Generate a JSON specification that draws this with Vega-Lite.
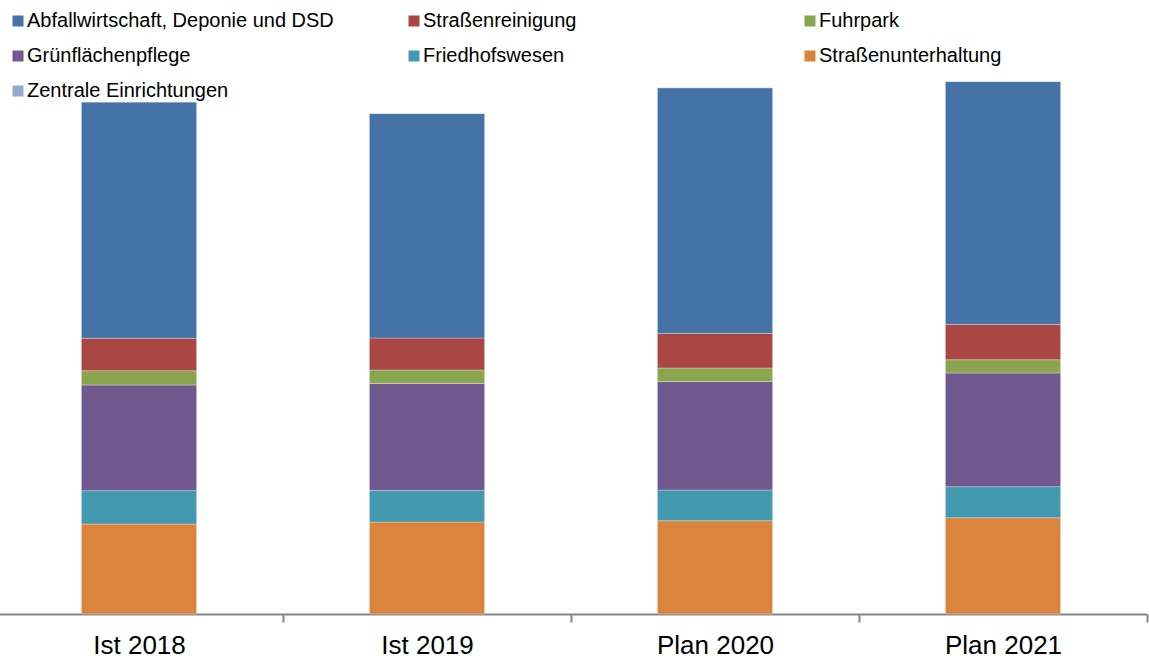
{
  "$schema": "https://vega.github.io/schema/vega-lite/v6.json",
  "width": 1152,
  "height": 614,
  "padding": {"left": -5, "top": 0, "right": 2, "bottom": 45},
  "autosize": {"type": "none"},
  "background": "#ffffff",
  "config": {
    "view": {"stroke": null},
    "font": "Liberation Sans"
  },
  "data": {
    "values": [
      {"Jahr": "Ist 2018", "Bereich": "Straßenunterhaltung", "Wert": 90, "Ordnung": 1},
      {"Jahr": "Ist 2018", "Bereich": "Friedhofswesen", "Wert": 33.3, "Ordnung": 2},
      {"Jahr": "Ist 2018", "Bereich": "Grünflächenpflege", "Wert": 105.7, "Ordnung": 3},
      {"Jahr": "Ist 2018", "Bereich": "Fuhrpark", "Wert": 14.3, "Ordnung": 4},
      {"Jahr": "Ist 2018", "Bereich": "Straßenreinigung", "Wert": 32.4, "Ordnung": 5},
      {"Jahr": "Ist 2018", "Bereich": "Abfallwirtschaft, Deponie und DSD", "Wert": 236.3, "Ordnung": 6},
      {"Jahr": "Ist 2018", "Bereich": "Zentrale Einrichtungen", "Wert": 0, "Ordnung": 7},
      {"Jahr": "Ist 2019", "Bereich": "Straßenunterhaltung", "Wert": 92, "Ordnung": 1},
      {"Jahr": "Ist 2019", "Bereich": "Friedhofswesen", "Wert": 31.6, "Ordnung": 2},
      {"Jahr": "Ist 2019", "Bereich": "Grünflächenpflege", "Wert": 107, "Ordnung": 3},
      {"Jahr": "Ist 2019", "Bereich": "Fuhrpark", "Wert": 13.4, "Ordnung": 4},
      {"Jahr": "Ist 2019", "Bereich": "Straßenreinigung", "Wert": 32, "Ordnung": 5},
      {"Jahr": "Ist 2019", "Bereich": "Abfallwirtschaft, Deponie und DSD", "Wert": 224.6, "Ordnung": 6},
      {"Jahr": "Ist 2019", "Bereich": "Zentrale Einrichtungen", "Wert": 0, "Ordnung": 7},
      {"Jahr": "Plan 2020", "Bereich": "Straßenunterhaltung", "Wert": 93.3, "Ordnung": 1},
      {"Jahr": "Plan 2020", "Bereich": "Friedhofswesen", "Wert": 30.7, "Ordnung": 2},
      {"Jahr": "Plan 2020", "Bereich": "Grünflächenpflege", "Wert": 108.6, "Ordnung": 3},
      {"Jahr": "Plan 2020", "Bereich": "Fuhrpark", "Wert": 13.4, "Ordnung": 4},
      {"Jahr": "Plan 2020", "Bereich": "Straßenreinigung", "Wert": 34.6, "Ordnung": 5},
      {"Jahr": "Plan 2020", "Bereich": "Abfallwirtschaft, Deponie und DSD", "Wert": 245.7, "Ordnung": 6},
      {"Jahr": "Plan 2020", "Bereich": "Zentrale Einrichtungen", "Wert": 0, "Ordnung": 7},
      {"Jahr": "Plan 2021", "Bereich": "Straßenunterhaltung", "Wert": 96.3, "Ordnung": 1},
      {"Jahr": "Plan 2021", "Bereich": "Friedhofswesen", "Wert": 31, "Ordnung": 2},
      {"Jahr": "Plan 2021", "Bereich": "Grünflächenpflege", "Wert": 113.7, "Ordnung": 3},
      {"Jahr": "Plan 2021", "Bereich": "Fuhrpark", "Wert": 13.3, "Ordnung": 4},
      {"Jahr": "Plan 2021", "Bereich": "Straßenreinigung", "Wert": 35.3, "Ordnung": 5},
      {"Jahr": "Plan 2021", "Bereich": "Abfallwirtschaft, Deponie und DSD", "Wert": 243, "Ordnung": 6},
      {"Jahr": "Plan 2021", "Bereich": "Zentrale Einrichtungen", "Wert": 0, "Ordnung": 7}
    ]
  },
  "mark": {"type": "bar", "stroke": "#ffffff", "strokeWidth": 0.6, "strokeOpacity": 0.5},
  "encoding": {
    "x": {
      "field": "Jahr",
      "type": "nominal",
      "sort": ["Ist 2018", "Ist 2019", "Plan 2020", "Plan 2021"],
      "scale": {"paddingInner": 0.6, "paddingOuter": 0.3},
      "axis": {
        "title": null,
        "labelAngle": 0,
        "labelFontSize": 26,
        "labelColor": "#000000",
        "labelPadding": 10,
        "labelOffset": -144,
        "domainColor": "#868686",
        "domainWidth": 2,
        "ticks": true,
        "tickColor": "#868686",
        "tickWidth": 2,
        "tickSize": 8,
        "tickOpacity": 1,
        "tickOffset": 144,
        "grid": false
      }
    },
    "y": {
      "field": "Wert",
      "type": "quantitative",
      "stack": "zero",
      "scale": {"domain": [0, 614], "nice": false, "zero": true},
      "axis": null
    },
    "color": {
      "field": "Bereich",
      "type": "nominal",
      "sort": ["Abfallwirtschaft, Deponie und DSD", "Straßenreinigung", "Fuhrpark", "Grünflächenpflege", "Friedhofswesen", "Straßenunterhaltung", "Zentrale Einrichtungen"],
      "scale": {
        "domain": ["Abfallwirtschaft, Deponie und DSD", "Straßenreinigung", "Fuhrpark", "Grünflächenpflege", "Friedhofswesen", "Straßenunterhaltung", "Zentrale Einrichtungen"],
        "range": ["#4572A7", "#AA4643", "#89A54E", "#71588F", "#4198AF", "#DB843D", "#93A9CF"]
      },
      "legend": {
        "title": null,
        "orient": "none",
        "direction": "horizontal",
        "legendX": 13,
        "legendY": 11,
        "columns": 3,
        "gridAlign": "all",
        "columnPadding": 70,
        "rowPadding": 15,
        "symbolType": "square",
        "symbolSize": 121,
        "symbolStrokeWidth": 0,
        "symbolOpacity": 1,
        "labelFontSize": 20,
        "labelColor": "#000000",
        "labelOffset": -1,
        "labelLimit": 400,
        "padding": 0
      }
    },
    "order": {"field": "Ordnung", "type": "quantitative"}
  }
}
